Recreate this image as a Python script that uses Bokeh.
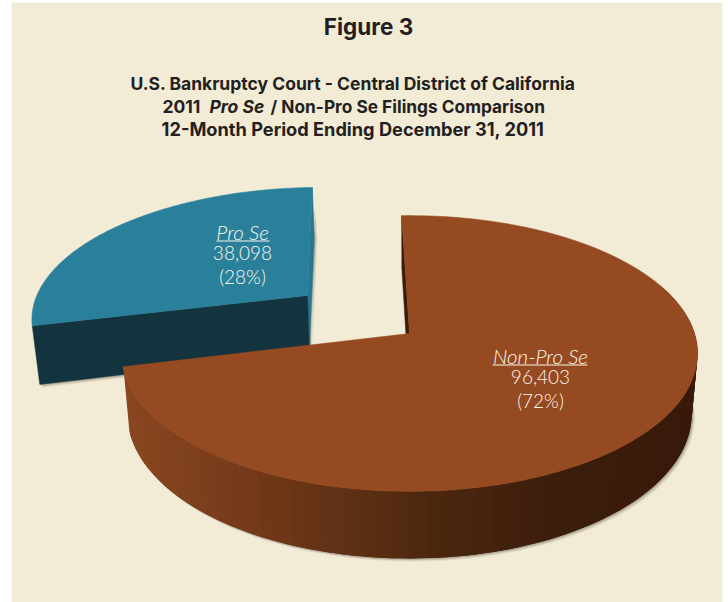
import numpy as np
from bokeh.plotting import figure
from bokeh.models import Range1d
from bokeh.core.properties import value
from bokeh.embed import file_html
from bokeh.resources import INLINE

# ---- data
categories = ["Non-Pro Se", "Pro Se"]
filings = [96403, 38098]
percent_labels = ["(72%)", "(28%)"]
count_labels = ["96,403", "38,098"]

# ---- layout (page pixels)
W, H = 728, 602
BOLD = value("Inter")
LIGHT = value("Lato Light, Lato")
CX, CY, A, B, K = 409.0, 333.0, 285.0, 135.0, 0.145
SCALE_BOTTOM, DROP, K2 = 0.98, 59.0, 0.12
START_DEG, EXPLODE, PRO_R, NUDGE_U = -1.8, 0.485, 0.99, 0.013


def top(u, v):
    d = 1 + K * v
    return CX + A * u / d, CY - B * v / d


def bottom(u, v):
    x, y = top(u, v)
    return CX + SCALE_BOTTOM * (x - CX), y + DROP / (1 + K2 * v)


def hexmix(c1, c2, t):
    a = np.array([int(c1[i:i + 2], 16) for i in (1, 3, 5)], float)
    b = np.array([int(c2[i:i + 2], 16) for i in (1, 3, 5)], float)
    r = a + (b - a) * t
    return "#%02x%02x%02x" % tuple(int(round(c)) for c in r)


side_stops = [(120, "#8a4720"), (230, "#773b1a"), (340, "#5f3014"), (440, "#4a260f"), (560, "#3b1d0b"), (700, "#38190a")]


def side_color(x):
    for (x0, c0), (x1, c1) in zip(side_stops, side_stops[1:]):
        if x <= x1:
            return hexmix(c0, c1, max(0, (x - x0) / (x1 - x0)))
    return side_stops[-1][1]


total = sum(filings)
span0 = 360 * filings[0] / total
span1 = 360 * filings[1] / total
a0, a1 = START_DEG, START_DEG + span0
a2 = a1 + span1

p = figure(width=W, height=H, x_range=Range1d(0, W), y_range=Range1d(H, 0),
           output_backend="svg", toolbar_location=None, min_border=0,
           background_fill_color="#ffffff", border_fill_color="#ffffff", outline_line_color=None)
p.axis.visible = False
p.grid.visible = False
p.styles = {"position": "absolute", "left": "0", "top": "0"}

p.quad(left=[11], right=[722], top=[2], bottom=[602], fill_color="#f2ebd5", line_color=None)


def arc(a_from, a_to, ou=0.0, ov=0.0, r=1.0, n=120):
    t = np.radians(np.linspace(a_from, a_to, n))
    return ou + r * np.sin(t), ov + r * np.cos(t)


def poly(xs, ys, fill, alpha=1.0, line=True):
    p.patch(list(xs), list(ys), fill_color=fill, line_color=fill if (alpha == 1.0 and line) else None,
            line_width=0.5, fill_alpha=alpha)


# ---- exploded Pro Se slice
mid = np.radians((a1 + a2) / 2)
ou, ov = EXPLODE * np.sin(mid) + NUDGE_U, EXPLODE * np.cos(mid)
u, v = arc(a1, a2, ou, ov, PRO_R)
tx, ty = top(u, v)
bax, bay = bottom(ou, ov)
tax, tay = top(ou, ov)
l_bx, l_by = bottom(u[0], v[0])
r_bx, r_by = bottom(u[-1], v[-1])

for off, al in ((3, 0.10), (2, 0.15), (1, 0.2)):
    poly([tx[0] + off, tax + off, bax + off, l_bx + off], [ty[0], tay, bay + off, l_by + off], "#403a30", al)
    poly([tx[-1] + off, r_bx + off, bax + off], [ty[-1] + 18, r_by, bay], "#403a30", al)

poly([tx[-1], r_bx, bax, tax], [ty[-1], r_by, bay, tay], "#277790")
poly([tx[0], tax, bax, l_bx], [ty[0], tay, bay, l_by], "#13343f")
poly(np.r_[tax, tx], np.r_[tay, ty], "#2a809b")

# ---- Non-Pro Se slice
u, v = arc(a0, a1, n=160)
tx, ty = top(u, v)
bx, by = bottom(u, v)
bcx, bcy = bottom(0, 0)

front = (v < 0.35)
for off, al in ((3, 0.10), (2, 0.15), (1, 0.22)):
    poly(bx[front] + off, by[front] + off, "#403a30", al)

poly([tx[0], bx[0], bcx, CX], [ty[0], by[0], bcy, CY], "#3a1c0a")
for i in range(len(u) - 3):
    if v[i] < 0.4:
        c = side_color(tx[i + 1])
        poly([tx[i], tx[i + 1], tx[i + 2], bx[i + 2], bx[i + 1], bx[i]],
             [ty[i], ty[i + 1], ty[i + 2], by[i + 2], by[i + 1], by[i]], c, line=False)
poly(np.r_[CX, tx], np.r_[CY, ty], "#964a21")

# ---- titles
DARK = "#231f20"
SUB = "17.5px"
p.text([368], [26], text=["Figure 3"], text_font=BOLD, text_font_style="bold", text_font_size="22.5px",
       text_color=DARK, text_align="center", text_baseline="middle")
p.text([352.5], [83], text=["U.S. Bankruptcy Court - Central District of California"], text_font=BOLD,
       text_font_style="bold", text_font_size=SUB, text_color=DARK, text_align="center", text_baseline="middle")
p.text([162], [106], text=["2011"], text_font=BOLD, text_font_style="bold", text_font_size=SUB,
       text_color=DARK, text_align="left", text_baseline="middle")
p.text([209], [106], text=["Pro Se"], text_font=BOLD, text_font_style="bold italic", text_font_size=SUB,
       text_color=DARK, text_align="left", text_baseline="middle")
p.text([270], [106], text=["/ Non-Pro Se Filings Comparison"], text_font=BOLD, text_font_style="bold",
       text_font_size="17.3px", text_color=DARK, text_align="left", text_baseline="middle")
p.text([352.5], [128], text=["12-Month Period Ending December 31, 2011"], text_font=BOLD, text_font_style="bold",
       text_font_size="18.2px", text_color=DARK, text_align="center", text_baseline="middle")

# ---- slice labels
LX = [540, 242]
LY = [355, 231]
for i in range(2):
    p.text([LX[i]], [LY[i]], text=[categories[i]], text_font=LIGHT, text_font_style="italic",
           text_font_size="20.5px", text_color="#fbf6e8", text_align="center", text_baseline="middle")
    p.text([LX[i]], [LY[i] + 21], text=[count_labels[i]], text_font=LIGHT, text_font_size="19px",
           text_color="#fbf6e8", text_align="center", text_baseline="middle")
    p.text([LX[i]], [LY[i] + 45], text=[percent_labels[i]], text_font=LIGHT, text_font_size="19px",
           text_color="#fbf6e8", text_align="center", text_baseline="middle")
p.segment([492, 216], [364.5, 240.5], [587, 269], [364.5, 240.5], line_color="#fbf6e8", line_width=1)

open("out.html", "w").write(file_html(p, INLINE))
